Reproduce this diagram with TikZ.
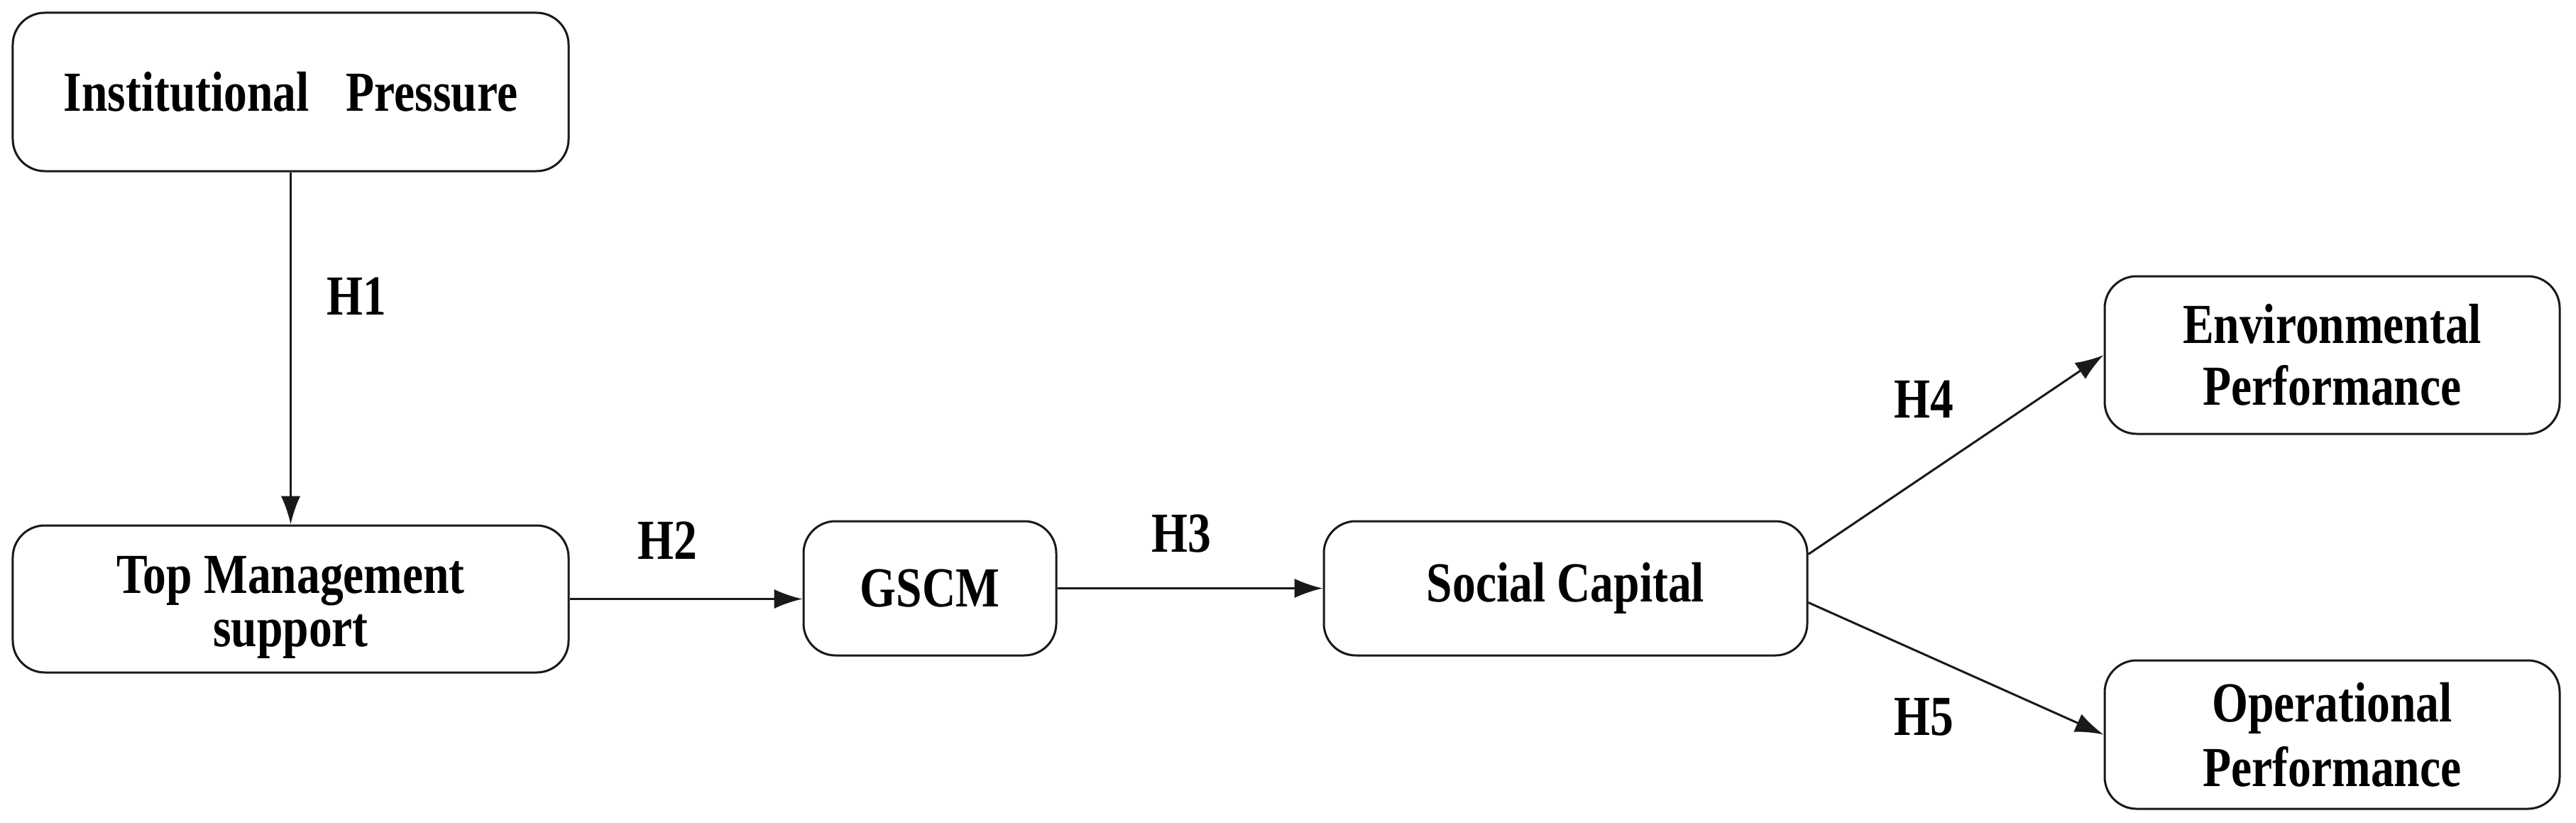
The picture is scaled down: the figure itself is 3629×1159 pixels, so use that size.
\documentclass[tikz,border=0pt]{standalone}
\usepackage{fontspec}
\usepackage{graphicx}
\setmainfont{Liberation Serif}
\usetikzlibrary{arrows.meta,calc}
\newcommand\tallt[1]{\scalebox{0.97}[1.18]{#1}}
\newcommand\lowt[1]{\raisebox{-2.4pt}[\height][\depth]{\tallt{#1}}}
\begin{document}
\begin{tikzpicture}[x=0.2pt,y=-0.2pt,
  box/.style={draw=black!90,line width=0.6pt,rounded corners=9pt,align=center,
    font=\bfseries\fontsize{13.5}{14.3}\selectfont,inner sep=0pt},
  lab/.style={font=\bfseries\fontsize{13.5}{14}\selectfont,inner sep=0pt},
  arr/.style={draw=black!90,line width=0.6pt,-{Latex[length=8pt,width=5.5pt]}}]
\useasboundingbox (0,0) rectangle (3629,1159);
\node[box,minimum width=156.6pt,minimum height=44.6pt] (ip) at (409.5,129.5) {\tallt{Institutional\hspace{0.8em}Pressure}};
\node[box,minimum width=156.6pt,minimum height=41.4pt] (tms) at (409.5,843.5) {\lowt{Top Management}\\[0.8pt]\lowt{support}};
\node[box,minimum width=71.2pt,minimum height=37.8pt] (gscm) at (1310,828.5) {\tallt{GSCM}};
\node[box,minimum width=136.2pt,minimum height=37.8pt] (sc) at (2205.5,828.5) {\tallt{Social Capital}};
\node[box,minimum width=128.2pt,minimum height=44.4pt] (ep) at (3285.5,500) {\tallt{Environmental}\\[3pt]\tallt{Performance}};
\node[box,minimum width=128.2pt,minimum height=41.8pt] (op) at (3285.5,1034.5) {\tallt{Operational}\\[2.5pt]\tallt{Performance}};
\coordinate (s4) at ($(sc.east)+(0,-48)$);
\coordinate (s5) at ($(sc.east)+(0,20)$);
\draw[arr] (ip.south) -- (tms.north);
\draw[arr] (tms.east) -- (tms.east -| gscm.west);
\draw[arr] (gscm.east) -- (sc.west);
\draw[arr] (s4) -- (ep.west);
\draw[arr] (s5) -- (op.west);
\node[lab] (h1) at (502,417) {\tallt{H1}};
\node[lab] (h2) at (940,761) {\tallt{H2}};
\node[lab] (h3) at (1664,752) {\tallt{H3}};
\node[lab] (h4) at (2710,562) {\tallt{H4}};
\node[lab] (h5) at (2710,1010) {\tallt{H5}};
\end{tikzpicture}
\end{document}
